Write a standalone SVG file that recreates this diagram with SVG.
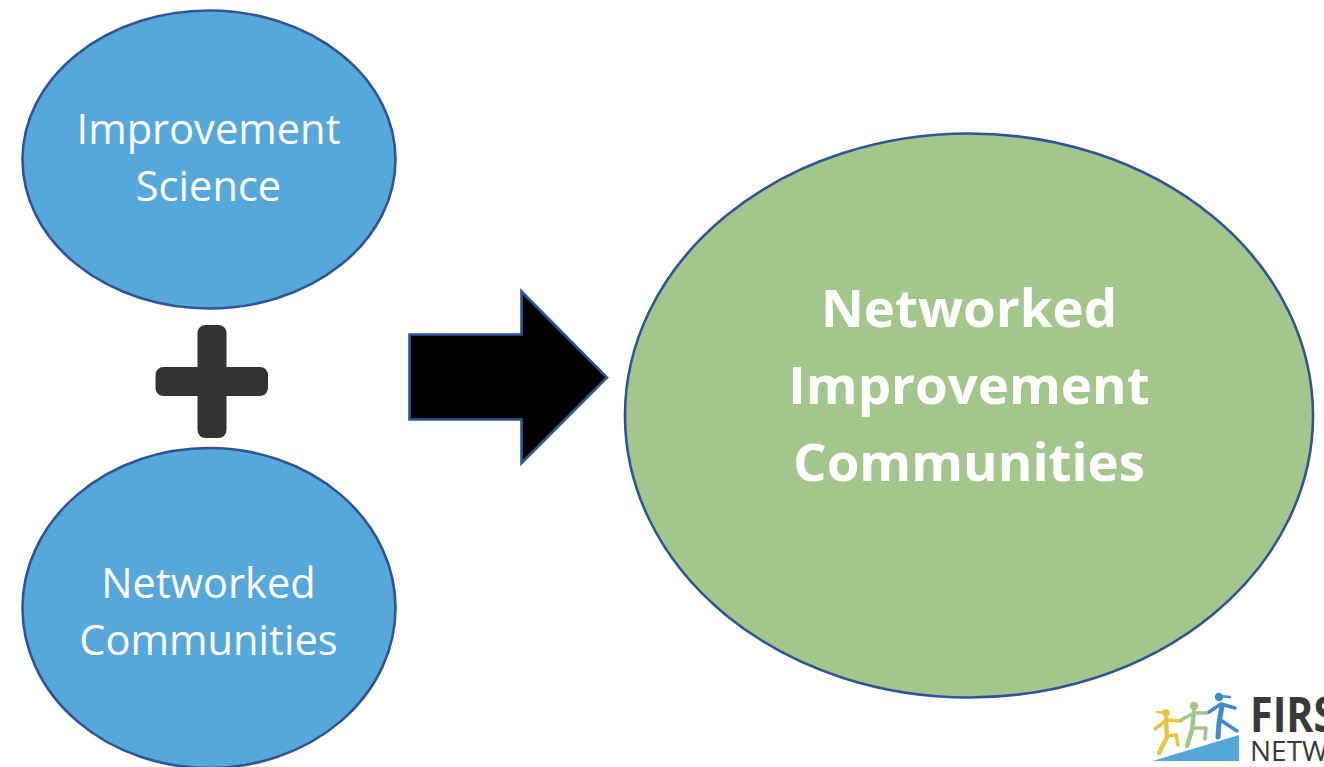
<svg xmlns="http://www.w3.org/2000/svg" width="1324" height="767" viewBox="0 0 1324 767">
<style>
.ell{stroke:#2f5597;stroke-width:2.6}
.blue{fill:#56a7da}
.green{fill:#a3c68c}
.t{font-family:"Open Sans","Noto Sans",sans-serif;fill:#fff;text-anchor:middle;font-size:41.600px}
.b{font-family:"Open Sans","Noto Sans",sans-serif;fill:#fff;text-anchor:middle;font-size:52.800px;font-weight:700}
.lim{fill:none;stroke-linecap:round;stroke-linejoin:round}
.logo{font-family:"Open Sans","Noto Sans",sans-serif;fill:#3a3a3a}
</style>
<rect width="1324" height="767" fill="#fff"/>
<g id="node-improvement-science">
<ellipse class="ell blue" cx="209" cy="159.500" rx="186.500" ry="149"/>
<text class="t" x="208.500" y="144">Improvement</text>
<text class="t" x="208.500" y="201">Science</text>
</g>
<g id="node-networked-communities">
<ellipse class="ell blue" cx="209" cy="608" rx="186.500" ry="160"/>
<text class="t" x="208.500" y="598">Networked</text>
<text class="t" x="208.500" y="655">Communities</text>
</g>
<g id="node-plus">
<path fill="#333333" d="M197.500 333a8 8 0 0 1 8-8h13a8 8 0 0 1 8 8v34h33.500a8 8 0 0 1 8 8v13a8 8 0 0 1-8 8h-33.500v34a8 8 0 0 1-8 8h-13a8 8 0 0 1-8-8v-34h-34a8 8 0 0 1-8-8v-13a8 8 0 0 1 8-8h34z"/>
</g>
<g id="connectors">
<path id="arrow" d="M409.500 334.500H521.500V291.500L607 377.500L521.500 463V419.500H409.500Z" fill="#000" stroke="#2f5597" stroke-width="2.600"/>
</g>
<g id="node-networked-improvement-communities">
<ellipse class="ell green" cx="969" cy="415.500" rx="344" ry="282"/>
<text class="b" x="969" y="327">Networked</text>
<text class="b" x="969" y="404">Improvement</text>
<text class="b" x="969" y="481">Communities</text>
</g>
<g id="logo">
<path d="M1154 760.500L1239 735V761H1154Z" fill="#56a7da"/>
<g class="lim" stroke="#e9c43f" stroke-width="3.500">
<circle cx="1166" cy="713" r="3.800" fill="#e9c43f" stroke="none"/>
<path d="M1166 713L1157 712" stroke-width="2.500"/>
<path d="M1166 718L1167 737L1159 753" stroke-width="4.500"/>
<path d="M1167 736L1176 735L1178 745"/>
<path d="M1155 729L1164 722L1166 720L1181 721"/>
</g>
<g class="lim" stroke="#a3c68c" stroke-width="3.500">
<circle cx="1194" cy="706" r="4.200" fill="#a3c68c" stroke="none"/>
<path d="M1194 712L1192 730L1187 746" stroke-width="4.500"/>
<path d="M1193 728L1206 728L1205 739"/>
<path d="M1181 720L1194 713L1207 713"/>
</g>
<g class="lim" stroke="#3f8cc8" stroke-width="3.500">
<circle cx="1219" cy="697" r="4.200" fill="#3f8cc8" stroke="none"/>
<path d="M1219 696L1230 697" stroke-width="2.500"/>
<path d="M1222 706L1219 723L1218 737" stroke-width="5"/>
<path d="M1222 721L1237 731"/>
<path d="M1209 712L1221 704L1235 708"/>
</g>
<text class="logo" transform="translate(1250 732) scale(.86 1)" font-size="48" font-weight="700">FIRS</text>
<text class="logo" transform="translate(1250 761)" font-size="28">NETW</text>
</g>
</svg>
